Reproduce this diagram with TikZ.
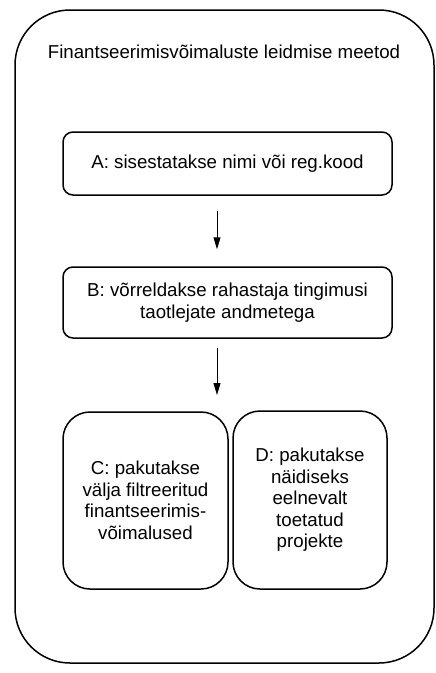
\documentclass[tikz,border=0pt]{standalone}
\usepackage{fontspec}
\setmainfont{Liberation Sans}
\usetikzlibrary{arrows.meta}
\begin{document}
\begin{tikzpicture}[x=1pt,y=-1pt,
  txt/.style={font=\fontsize{18.7}{21.5}\selectfont, align=center, inner sep=0pt},
  stepbox/.style={draw, line width=1.5pt, rounded corners=10pt, txt},
  tallbox/.style={draw, line width=1.5pt, rounded corners=27pt, txt},
  flow/.style={line width=1pt, -{Triangle[length=12pt,width=7pt]}}]
\useasboundingbox (0,0) rectangle (436,673);
\draw[line width=1.5pt, rounded corners=55pt] (15,10) rectangle (434,663);
\node[txt] (title) at (224,52) {Finantseerimisvõimaluste leidmise meetod};
\node[stepbox, minimum width=329pt, minimum height=63pt] (A) at (227.5,163.5) {A: sisestatakse nimi või reg.kood};
\node[stepbox, minimum width=329pt, minimum height=71pt] (B) at (227.5,302.5) {B: võrreldakse rahastaja tingimusi\\taotlejate andmetega};
\node[tallbox, minimum width=165pt, minimum height=177pt] (C) at (145.5,500.5) {C: pakutakse\\välja filtreeritud\\finantseerimis-\\võimalused};
\node[tallbox, minimum width=154pt, minimum height=178pt] (D) at (310,500) {D: pakutakse\\näidiseks\\eelnevalt\\toetatud\\projekte};
\coordinate (cd) at (217,412);
\draw[flow, shorten <=15pt, shorten >=17pt] (A.south -| cd) -- (B.north -| cd);
\draw[flow, shorten <=9pt, shorten >=17pt] (B.south -| cd) -- (cd);
\end{tikzpicture}
\end{document}
